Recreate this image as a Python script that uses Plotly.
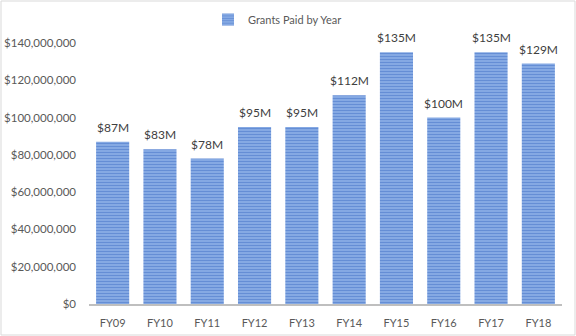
import plotly.graph_objects as go

years = ["FY09", "FY10", "FY11", "FY12", "FY13", "FY14", "FY15", "FY16", "FY17", "FY18"]
grants = [87e6, 83e6, 78e6, 95e6, 95e6, 112e6, 135e6, 100e6, 135e6, 129e6]
labels = ["$87M", "$83M", "$78M", "$95M", "$95M", "$112M", "$135M", "$100M", "$135M", "$129M"]
y_ticks = [0, 20e6, 40e6, 60e6, 80e6, 100e6, 120e6, 140e6]

W, H = 576, 336
L, R, T, B = 89, 14, 43, 32
pw, ph = W - L - R, H - T - B

FONT = "Lato, Carlito, Calibri, Liberation Sans, sans-serif"

fig = go.Figure()
fig.add_trace(go.Bar(
    x=years, y=grants, name="Grants Paid by Year", cliponaxis=False,
    marker=dict(color="#4A7FD0", line=dict(width=0),
                pattern=dict(shape="-", fgcolor="#3568C2", bgcolor="#94B5E8",
                             size=3, solidity=0.55)),
))
for yr, val, lab in zip(years, grants, labels):
    fig.add_annotation(x=yr, y=val, text=lab, showarrow=False, yanchor="bottom",
                       yshift=5, font=dict(size=12, color="#404040", family=FONT))
fig.update_layout(
    width=W, height=H,
    margin=dict(l=L, r=R, t=T, b=B, autoexpand=False),
    paper_bgcolor="white", plot_bgcolor="white",
    font=dict(family=FONT, size=11, color="#595959"),
    bargap=0.3,
    showlegend=True,
    legend=dict(orientation="h", x=0.2516, xanchor="left", y=0.985, yanchor="top",
                yref="container", bgcolor="rgba(0,0,0,0)",
                font=dict(size=11, color="#595959", family=FONT)),
    xaxis=dict(showline=True, linecolor="#BFBFBF", linewidth=1.5, ticks="",
               showgrid=False, ticklabelstandoff=8, automargin=False,
               tickfont=dict(size=11, color="#595959", family=FONT)),
    yaxis=dict(range=[0, 140e6], tickvals=y_ticks, tickformat="$,.0f",
               showgrid=False, zeroline=False, showline=False, ticks="",
               ticklabelstandoff=12, automargin=False,
               tickfont=dict(size=11.5, color="#595959", family=FONT)),
    shapes=[dict(type="rect", xref="paper", yref="paper",
                 x0=(1 - L) / pw, x1=(W - 1 - L) / pw,
                 y0=(H - B - (H - 1)) / ph, y1=(H - B - 1) / ph,
                 line=dict(color="#D9D9D9", width=1), layer="above")],
)
fig.write_html("out.html")
